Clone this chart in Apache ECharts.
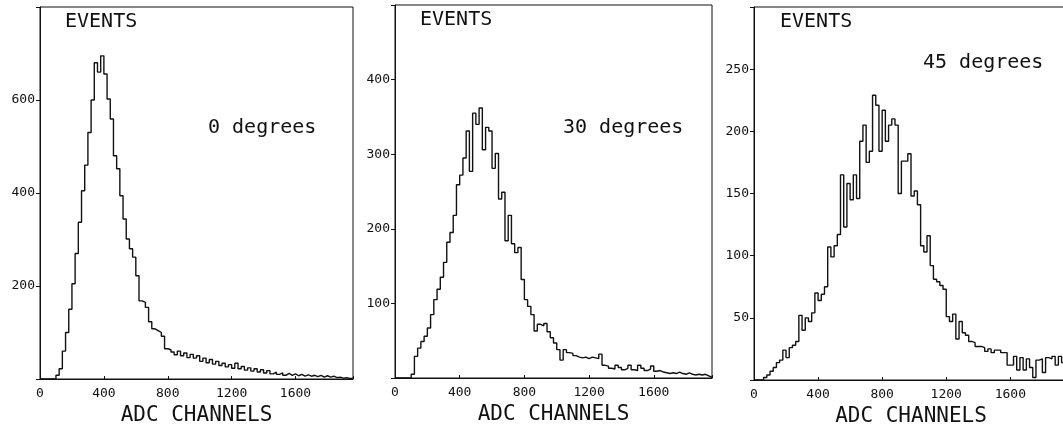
<!DOCTYPE html>
<html><head><meta charset="utf-8">
<script src="https://cdn.jsdelivr.net/npm/echarts@6/dist/echarts.min.js"></script>
<style>html,body{margin:0;padding:0;background:#fff}#c{width:1063px;height:427px}</style>
</head><body><div id="c"></div>
<script>
// ---- data ----
const BIN = 20;              // ADC channels per histogram bin
const X_MAX = 1960;
const xTicks = [0, 400, 800, 1200, 1600];
const yTicks0 = [200, 400, 600];
const yTicks30 = [100, 200, 300, 400];
const yTicks45 = [50, 100, 150, 200, 250];
const labels = ['0 degrees', '30 degrees', '45 degrees'];

// counts per bin (bin i covers [20i, 20i+20])
const deg0 = [0,0,0,0,0,
 8,22,60,100,150,205,270,337,405,460,
 530,600,680,660,695,656,602,559,480,452,
 394,344,301,280,262,222,168,165,154,123,
 108,104,100,92,65,
 63,58,52,60,50,56,46,53,45,50,
 38,45,35,42,32,38,29,34,26,31,
 23,34,22,27,19,24,17,22,15,20,
 13,18,11,15,10,13,8,12,8,11,
 7,10,6,9,6,8,5,8,4,7,
 4,6,3,4,2,3,1,1];
const deg30 = [0,0,0,0,0,
 5,29,40,49,56,67,85,105,119,135,
 155,182,195,218,259,272,295,331,277,355,
 340,362,306,336,331,281,301,240,249,184,
 218,180,168,175,132,105,96,85,63,72,
 70,73,62,54,47,38,24,38,34,33,
 30,28,27,28,26,28,27,26,32,17,
 16,13,12,17,14,11,13,17,11,10,
 17,13,10,12,16,9,10,8,7,6,
 7,6,8,6,5,7,5,4,5,4,
 5,3,1];
const deg45 = [0,0,0,
 2,4,7,10,14,16,24,18,26,28,
 31,52,40,50,47,54,70,64,69,75,
 107,99,108,117,165,123,158,145,165,146,
 192,205,175,184,229,221,184,217,192,205,
 210,205,150,176,176,182,148,152,141,108,
 103,116,92,81,79,76,73,51,47,53,
 33,47,38,36,31,30,27,27,26,23,
 25,22,24,24,22,22,12,12,19,8,
 18,8,17,10,2,16,17,6,18,17,
 19,12,19,14,10];

// ---- chart ----
const FONT = 'DejaVu Sans Mono';
const INK = '#111';
const panels = [
  {data: deg0, yTicks: yTicks0, ymax: 800, yint: 200, grid: {left: 40, top: 7, width: 313, height: 372},
   ev: {left: 65, top: 12}, lab: {left: 208, top: 118}},
  {data: deg30, yTicks: yTicks30, ymax: 500, yint: 100, grid: {left: 395, top: 5, width: 317, height: 373},
   ev: {left: 420, top: 10}, lab: {left: 563, top: 118}},
  {data: deg45, yTicks: yTicks45, ymax: 300, yint: 50, grid: {left: 754, top: 7, width: 314, height: 373},
   ev: {left: 780, top: 12}, lab: {left: 923, top: 53}}
];

function histPoints(arr) {
  const pts = arr.map((v, i) => [i * BIN, v]);
  pts.push([arr.length * BIN, arr[arr.length - 1]]);
  return pts;
}

const option = {
  animation: false,
  backgroundColor: '#fff',
  title: [],
  grid: [], xAxis: [], yAxis: [], series: []
};

panels.forEach((p, k) => {
  option.grid.push(Object.assign({show: true, borderColor: INK, borderWidth: 1,
    containLabel: false, outerBoundsMode: 'none'}, p.grid));
  option.title.push({text: 'EVENTS', left: p.ev.left, top: p.ev.top, padding: 0,
    textStyle: {fontFamily: FONT, fontSize: 20, fontWeight: 'normal', color: INK}});
  option.title.push({text: labels[k], left: p.lab.left, top: p.lab.top, padding: 0,
    textStyle: {fontFamily: FONT, fontSize: 20, fontWeight: 'normal', color: INK}});
  option.xAxis.push({
    type: 'value', gridIndex: k, min: 0, max: X_MAX, interval: 400,
    name: 'ADC CHANNELS', nameLocation: 'middle', nameGap: 26,
    nameTextStyle: {fontFamily: FONT, fontSize: 21, color: INK},
    axisLine: {show: true, lineStyle: {color: INK, width: 1}},
    axisTick: {show: true, inside: true, length: 3, lineStyle: {color: INK}},
    axisLabel: {fontFamily: FONT, fontSize: 13, color: INK, margin: 8,
      formatter: v => xTicks.indexOf(v) >= 0 ? String(v) : ''},
    splitLine: {show: false}
  });
  option.yAxis.push({
    type: 'value', gridIndex: k, min: 0, max: p.ymax, interval: p.yint,
    axisLine: {show: true, lineStyle: {color: INK, width: 1}},
    axisTick: {show: true, inside: false, length: 4, lineStyle: {color: INK}},
    axisLabel: {fontFamily: FONT, fontSize: 13, color: INK, margin: 5,
      formatter: v => p.yTicks.indexOf(v) >= 0 ? String(v) : ''},
    splitLine: {show: false}
  });
  option.series.push({
    type: 'line', xAxisIndex: k, yAxisIndex: k, step: 'end', symbol: 'none',
    data: histPoints(p.data),
    lineStyle: {color: INK, width: 1.4}
  });
});

const chart = echarts.init(document.getElementById('c'));
chart.setOption(option);
</script></body></html>
